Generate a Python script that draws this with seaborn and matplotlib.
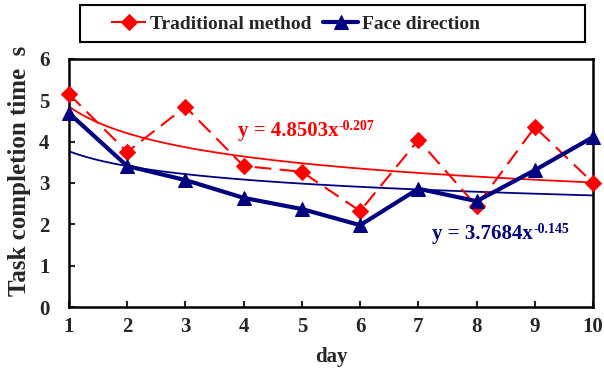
import numpy as np
import pandas as pd
import matplotlib
matplotlib.use("Agg")
import matplotlib.pyplot as plt
import seaborn as sns
from matplotlib.patches import Rectangle

# data
days = [1, 2, 3, 4, 5, 6, 7, 8, 9, 10]
traditional = [5.15, 3.75, 4.84, 3.41, 3.27, 2.32, 4.04, 2.44, 4.35, 3.00]
face = [4.69, 3.41, 3.07, 2.64, 2.37, 1.98, 2.86, 2.56, 3.31, 4.11]

# power trend lines printed on the chart
trad_a, trad_b = 4.8503, -0.207
face_a, face_b = 3.7684, -0.145

red = "#FF0000"
navy = "#000080"

sns.set_style("ticks")
plt.rcParams["font.family"] = ["Liberation Serif", "DejaVu Serif"]
plt.rcParams["font.weight"] = "bold"

fig = plt.figure(figsize=(6.04, 3.70), dpi=100)
ax = fig.add_axes([0.114, 0.170, 0.868, 0.671])

df = pd.DataFrame({"day": days, "Traditional method": traditional, "Face direction": face})

# trend curves
xs = np.linspace(1, 10, 200)
ax.plot(xs, trad_a * xs ** trad_b, color=red, lw=1.3, zorder=2)
ax.plot(xs, face_a * xs ** face_b, color=navy, lw=1.3, zorder=2)

sns.lineplot(data=df, x="day", y="Traditional method", ax=ax, color=red, lw=1.5,
             marker="D", markersize=8, markeredgecolor=red, dashes=False,
             label="Traditional method", zorder=3, clip_on=False)
ax.lines[-1].set_dashes((8, 4))
sns.lineplot(data=df, x="day", y="Face direction", ax=ax, color=navy, lw=3,
             marker="^", markersize=10, markeredgecolor=navy,
             label="Face direction", zorder=4, clip_on=False)

ax.set_xlim(1, 10)
ax.set_ylim(0, 6)
ax.set_xticks(days)
ax.set_yticks(range(0, 7))
ax.tick_params(direction="in", length=4, width=1.5, labelsize=15)
ax.tick_params(axis="x", pad=7)
ax.tick_params(axis="y", pad=14)
for lab in ax.get_xticklabels() + ax.get_yticklabels():
    lab.set_fontweight("bold")
for sp in ax.spines.values():
    sp.set_visible(True)
    sp.set_linewidth(1.8)
    sp.set_color("black")

ax.set_xlabel("day", fontsize=15, fontweight="bold", labelpad=7)
ax.set_ylabel("Task completion time  s", fontsize=18, fontweight="bold")
ax.yaxis.set_label_coords(-0.072, 0.55)

# equation labels
t1 = ax.text(3.9, 4.25, "y = 4.8503x", color=red, fontsize=15, fontweight="bold", va="center")
ax.annotate("-0.207", xy=(1, 0.72), xycoords=t1, color=red, fontsize=10,
            fontweight="bold", va="center", ha="left")
t2 = ax.text(7.24, 1.77, "y = 3.7684x", color=navy, fontsize=15, fontweight="bold", va="center")
ax.annotate("-0.145", xy=(1, 0.72), xycoords=t2, color=navy, fontsize=10,
            fontweight="bold", va="center", ha="left")

# legend above the plot with its own box
ax.get_legend().remove()
handles, labels = ax.get_legend_handles_labels()
fig.legend(handles, labels, loc="center left", bbox_to_anchor=(0.155, 0.935), ncol=2,
           frameon=False, handlelength=1.8, columnspacing=0.6,
           handletextpad=0.2, prop={"weight": "bold", "size": 14})
fig.patches.append(Rectangle((0.132, 0.886), 0.836, 0.1, transform=fig.transFigure,
                             fill=False, edgecolor="black", lw=1.5))

fig.savefig("out.png", dpi=100)
